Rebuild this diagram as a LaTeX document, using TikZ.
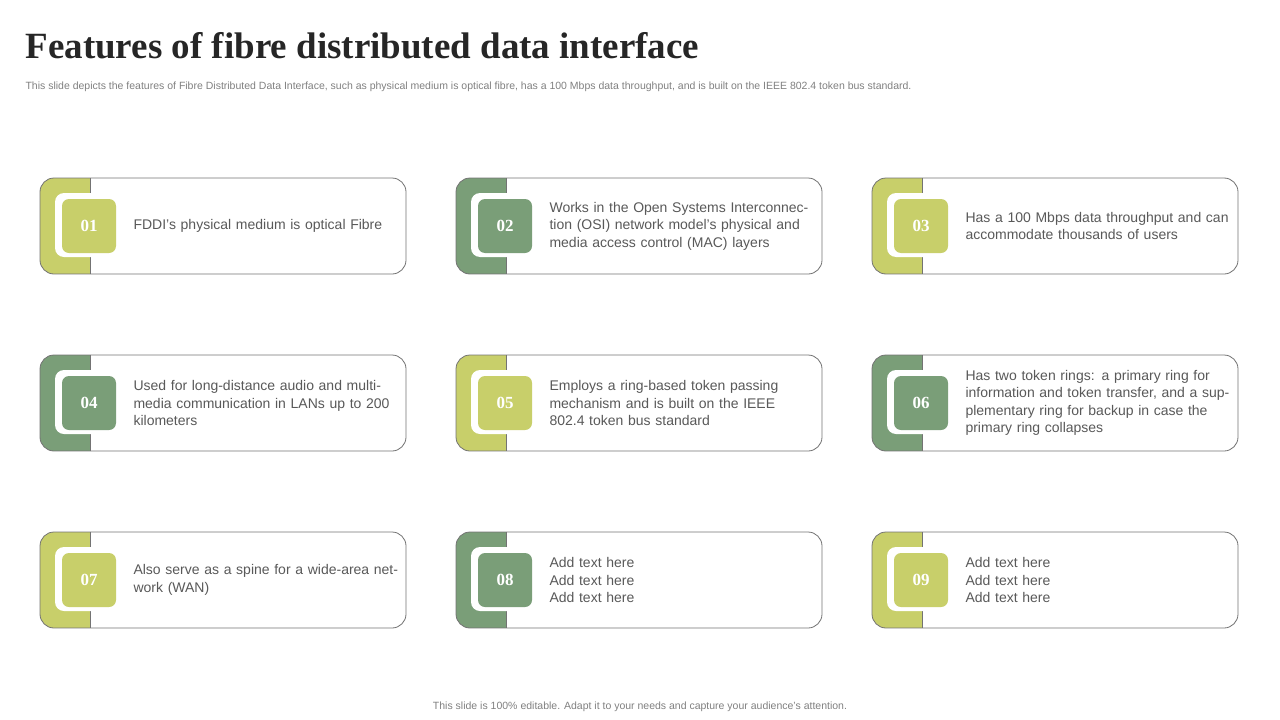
\documentclass[tikz,border=0pt]{standalone}
\usepackage{fontspec}
\setmainfont{Liberation Sans}
\newfontfamily\titlefont{Liberation Serif}
\definecolor{lg}{HTML}{C8CF6A}
\definecolor{dg}{HTML}{7A9E78}
\definecolor{tx}{HTML}{595959}
\begin{document}
\begin{tikzpicture}[x=1pt,y=-1pt,
  card/.style={draw=black!55,line width=0.8pt,rounded corners=14pt,fill=white},
  numtxt/.style={font=\titlefont\bfseries\fontsize{17}{17}\selectfont,text=white},
  bodytxt/.style={anchor=west,align=left,text=tx,font=\fontsize{14}{17.5}\selectfont,text width=265pt}]
\useasboundingbox (0,0) rectangle (1280,720);
\node[anchor=west,font=\titlefont\bfseries\fontsize{37}{40}\selectfont,text=black!85] (title) at (22,46) {Features of fibre distributed data interface};
\node[anchor=west,font=\fontsize{10.5}{12}\selectfont,text=black!50] (sub) at (22,87) {This slide depicts the features of Fibre Distributed Data Interface, such as physical medium is optical fibre, has a 100 Mbps data throughput, and is built on the IEEE 802.4 token bus standard.};
\node[font=\fontsize{10.5}{12}\selectfont,text=black!50] (foot) at (640,707) {This slide is 100\% editable. Adapt it to your needs and capture your audience's attention.};
\foreach \i/\cx/\cy/\c/\t in {
 1/40/178/lg/{FDDI's physical medium is optical Fibre},
 2/456/178/dg/{Works in the Open Systems Interconnection (OSI) network model's physical and media access control (MAC) layers},
 3/872/178/lg/{Has a 100 Mbps data throughput and can accommodate thousands of users},
 4/40/355/dg/{Used for long-distance audio and multimedia communication in LANs up to 200 kilometers},
 5/456/355/lg/{Employs a ring-based token passing mechanism and is built on the IEEE 802.4 token bus standard},
 6/872/355/dg/{Has two token rings: a primary ring for information and token transfer, and a supplementary ring for backup in case the primary ring collapses},
 7/40/532/lg/{Also serve as a spine for a wide-area network (WAN)},
 8/456/532/dg/{Add text here\\Add text here\\Add text here},
 9/872/532/lg/{Add text here\\Add text here\\Add text here}} {
  \begin{scope}
    \clip[rounded corners=14pt] (\cx,\cy) rectangle ++(366,96);
    \fill[white] (\cx,\cy) rectangle ++(366,96);
    \fill[\c] (\cx,\cy) rectangle ++(50,96);
  \end{scope}
  \draw[card,fill=none] (\cx,\cy) rectangle ++(366,96);
  \draw[black!55,line width=0.8pt] (\cx+50,\cy) -- ++(0,96);
  \fill[white,rounded corners=9pt] (\cx+15,\cy+15) rectangle ++(64,64);
  \fill[\c,rounded corners=7pt] (\cx+22,\cy+21) rectangle ++(54,54);
  \node[numtxt] (n\i) at (\cx+49,\cy+48) {0\i};
  \node[bodytxt] (t\i) at (\cx+90,\cy+48) {\t};
}
\end{tikzpicture}
\end{document}
